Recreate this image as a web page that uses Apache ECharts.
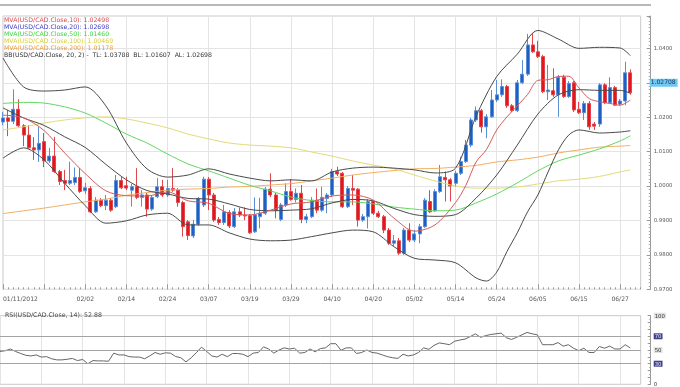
<!DOCTYPE html>
<html><head><meta charset="utf-8">
<script src="https://cdn.jsdelivr.net/npm/echarts@6/dist/echarts.min.js"></script>
<style>html,body{margin:0;padding:0;background:#fff}#c{width:680px;height:387px}</style>
</head><body><div id="c"></div>
<script>
// ---- categories: weekday dates from 01/11/2012 to 06/29/2012, plus 2 empty slots at the right
const categories = (function () {
  const out = [];
  const d = new Date(Date.UTC(2012, 0, 11));
  while (out.length < 123) {
    const wd = d.getUTCDay();
    if (wd > 0 && wd < 6) {
      const mm = String(d.getUTCMonth() + 1).padStart(2, '0');
      const dd = String(d.getUTCDate()).padStart(2, '0');
      out.push(out.length === 0 ? mm + '/' + dd + '/2012' : mm + '/' + dd);
    }
    d.setUTCDate(d.getUTCDate() + 1);
  }
  out.push('', '');
  return out;
})();

// ---- OHLC
const opens = [
1.0186,1.0198,1.0188,1.0223,1.0175,1.0148,1.0111,1.0105,1.0129,1.0073,
1.0087,1.0042,1.0016,1.0008,1.0010,1.0025,0.9986,0.9993,0.9925,0.9959,
0.9943,0.9959,0.9940,1.0016,1.0001,0.9988,0.9998,0.9967,0.9974,0.9933,
0.9969,0.9998,0.9974,0.9993,0.9988,0.9952,0.9896,0.9855,0.9889,0.9945,
1.0020,0.9974,0.9903,0.9894,0.9923,0.9882,0.9925,0.9915,0.9914,0.9867,
0.9911,0.9921,0.9991,0.9974,0.9903,0.9945,0.9984,0.9961,0.9979,0.9903,
0.9911,0.9959,0.9930,0.9964,0.9974,1.0042,1.0037,0.9940,0.9993,0.9991,
0.9901,0.9911,0.9955,0.9921,0.9911,0.9872,0.9834,0.9841,0.9805,0.9872,
0.9843,0.9861,0.9882,0.9955,0.9928,0.9984,1.0025,1.0018,1.0008,1.0037,
1.0071,1.0119,1.0192,1.0219,1.0172,1.0201,1.0250,1.0265,1.0289,1.0233,
1.0219,1.0300,1.0325,1.0410,1.0390,1.0376,1.0274,1.0277,1.0265,1.0316,
1.0260,1.0300,1.0223,1.0213,1.0240,1.0180,1.0180,1.0294,1.0242,1.0286,
1.0238,1.0247,1.0329];
const closes = [
1.0198,1.0188,1.0223,1.0175,1.0148,1.0111,1.0105,1.0124,1.0073,1.0087,
1.0042,1.0013,1.0008,1.0016,1.0025,0.9984,0.9995,0.9925,0.9959,0.9943,
0.9959,0.9930,1.0016,0.9995,0.9994,0.9998,0.9967,0.9974,0.9933,0.9967,
0.9998,0.9974,0.9993,0.9988,0.9952,0.9882,0.9856,0.9889,0.9964,1.0020,
0.9974,0.9901,0.9894,0.9925,0.9884,0.9925,0.9916,0.9913,0.9864,0.9916,
0.9921,0.9991,0.9974,0.9930,0.9945,0.9984,0.9961,0.9979,0.9903,0.9911,
0.9959,0.9930,0.9967,0.9974,1.0042,1.0035,0.9940,0.9993,0.9988,0.9901,
0.9911,0.9955,0.9921,0.9911,0.9872,0.9834,0.9841,0.9805,0.9872,0.9843,
0.9861,0.9882,0.9959,0.9925,0.9984,1.0027,1.0018,1.0000,1.0037,1.0071,
1.0119,1.0192,1.0219,1.0172,1.0201,1.0250,1.0265,1.0289,1.0233,1.0219,
1.0300,1.0325,1.0410,1.0390,1.0376,1.0274,1.0279,1.0265,1.0316,1.0260,
1.0298,1.0221,1.0213,1.0240,1.0172,1.0174,1.0294,1.0242,1.0286,1.0235,
1.0247,1.0329,1.02708];
const lows = [
1.0177,1.0145,1.0180,1.0172,1.0116,1.0108,1.0076,1.0070,1.0055,1.0067,
1.0038,1.0003,0.9988,1.0003,1.0003,0.9980,0.9977,0.9922,0.9922,0.9939,
0.9930,0.9925,0.9936,0.9991,0.9988,0.9940,0.9962,0.9940,0.9911,0.9928,
0.9965,0.9968,0.9968,0.9983,0.9940,0.9853,0.9843,0.9849,0.9884,0.9939,
0.9930,0.9896,0.9887,0.9887,0.9878,0.9878,0.9910,0.9901,0.9861,0.9864,
0.9877,0.9916,0.9968,0.9906,0.9898,0.9939,0.9957,0.9952,0.9892,0.9892,
0.9907,0.9921,0.9925,0.9921,0.9968,1.0029,0.9936,0.9936,0.9945,0.9882,
0.9896,0.9877,0.9916,0.9907,0.9863,0.9829,0.9826,0.9800,0.9800,0.9837,
0.9837,0.9834,0.9878,0.9922,0.9925,0.9980,0.9955,0.9955,0.9998,1.0032,
1.0067,1.0113,1.0186,1.0155,1.0139,1.0198,1.0244,1.0259,1.0227,1.0215,
1.0215,1.0296,1.0320,1.0387,1.0372,1.0270,1.0250,1.0259,1.0201,1.0256,
1.0256,1.0215,1.0209,1.0192,1.0163,1.0163,1.0172,1.0238,1.0238,1.0233,
1.0233,1.0235,1.0265];
const highs = [
1.0215,1.0221,1.0281,1.0252,1.0180,1.0177,1.0142,1.0172,1.0154,1.0111,
1.0143,1.0047,1.0047,1.0071,1.0054,1.0052,1.0009,1.0000,0.9968,0.9965,
0.9974,0.9965,1.0032,1.0027,1.0027,1.0006,1.0052,0.9988,0.9980,0.9974,
1.0023,1.0018,1.0018,1.0052,0.9994,0.9957,0.9901,0.9901,0.9968,1.0027,
1.0026,0.9980,0.9910,0.9945,0.9930,0.9936,0.9938,0.9938,0.9919,0.9967,
0.9966,0.9997,1.0037,0.9980,0.9951,1.0008,1.0020,0.9993,1.0003,0.9919,
0.9968,0.9993,0.9998,0.9980,1.0050,1.0056,1.0041,1.0000,1.0032,0.9994,
0.9919,0.9962,0.9959,0.9928,0.9916,0.9878,0.9858,0.9849,0.9878,0.9892,
0.9872,0.9890,0.9965,0.9988,0.9991,1.0061,1.0042,1.0023,1.0044,1.0085,
1.0134,1.0198,1.0231,1.0224,1.0209,1.0279,1.0308,1.0310,1.0294,1.0238,
1.0308,1.0366,1.0442,1.0444,1.0422,1.0381,1.0352,1.0342,1.0323,1.0323,
1.0305,1.0305,1.0245,1.0247,1.0247,1.0186,1.0299,1.0299,1.0316,1.0291,
1.0253,1.0361,1.0339];

// ---- indicator lines (read at sample bars)
const lineIdx = [0,4,8,12,16,20,24,28,32,36,40,44,48,52,56,60,64,68,72,76,80,84,88,92,96,100,104,108,112,116,120,122];
const bbUpper = [1.0372,1.0288,1.0276,1.0279,1.0288,1.0233,1.0125,1.0050,1.0026,1.0032,1.0050,1.0035,1.0023,1.0015,1.0018,1.0015,1.0041,1.0052,1.0055,1.0052,1.0047,1.0038,1.0052,1.0203,1.0318,1.0383,1.0452,1.0427,1.0400,1.0403,1.0401,1.03788];
const bbMid = [1.0227,1.0198,1.0176,1.0143,1.0112,1.0063,1.0018,0.9987,0.9977,0.9964,0.9962,0.9948,0.9932,0.9928,0.9930,0.9934,0.9951,0.9961,0.9957,0.9935,0.9917,0.9912,0.9917,0.9965,1.0032,1.0119,1.0209,1.0265,1.0280,1.0278,1.0278,1.02698];
const bbLowerIdx = [0,4,8,12,16,20,24,28,32,36,40,44,48,52,56,60,64,68,72,76,80,84,88,92,94,96,98,100,102,104,106,108,110,112,116,120,122];
const bbLower = [1.0081,1.0111,1.0076,1.0008,0.9943,0.9892,0.9899,0.9916,0.9921,0.9887,0.9887,0.9864,0.9846,0.9841,0.9843,0.9853,0.9864,0.9872,0.9867,0.9824,0.9790,0.9785,0.9777,0.9733,0.9724,0.9750,0.9810,0.9864,0.9925,0.9974,1.0041,1.0105,1.0148,1.0163,1.0154,1.0157,1.01607];
const ma10Idx = [0,4,8,12,16,20,24,28,32,36,40,44,48,52,56,60,64,68,72,76,80,84,88,90,92,94,96,98,100,102,104,106,108,110,112,114,116,118,120,122];
const ma10 = [1.0206,1.0198,1.0161,1.0096,1.0036,0.9986,0.9972,0.9971,0.9983,0.9957,0.9950,0.9920,0.9916,0.9930,0.9948,0.9954,0.9971,0.9974,0.9959,0.9907,0.9869,0.9887,0.9952,1.0002,1.0070,1.0106,1.0163,1.0201,1.0233,1.0266,1.0307,1.0309,1.0318,1.0319,1.0285,1.0254,1.0245,1.0240,1.0235,1.02498];
const ma50 = [1.0240,1.0243,1.0241,1.0230,1.0212,1.0183,1.0151,1.0125,1.0093,1.0064,1.0044,1.0023,1.0002,0.9986,0.9968,0.9958,0.9954,0.9954,0.9948,0.9939,0.9933,0.9928,0.9930,0.9951,0.9977,1.0009,1.0044,1.0073,1.0090,1.0108,1.0131,1.0146];
const ma100 = [1.0163,1.0172,1.0183,1.0192,1.0198,1.0201,1.0195,1.0183,1.0169,1.0151,1.0137,1.0125,1.0119,1.0116,1.0111,1.0099,1.0087,1.0073,1.0061,1.0050,1.0032,1.0015,1.0000,0.9994,0.9994,0.9997,1.0006,1.0015,1.0020,1.0028,1.0041,1.00469];
const ma200 = [0.9920,0.9928,0.9936,0.9945,0.9954,0.9962,0.9973,0.9981,0.9988,0.9991,0.9993,0.9997,0.9999,1.0003,1.0007,1.0015,1.0023,1.0032,1.0039,1.0045,1.0050,1.0051,1.0055,1.0060,1.0070,1.0076,1.0084,1.0096,1.0105,1.0113,1.0116,1.01178];

// ---- RSI(14)
const rsi = [
47.9,48.9,51.5,47.9,44.9,42.3,41.3,42.8,39.7,40.3,
37.2,35.6,35.6,36.5,37.7,34.6,36.2,30.0,34.6,34.1,
34.1,33.6,45.4,42.8,42.8,40.3,39.7,39.7,37.2,41.5,
46.4,43.8,45.9,45.4,40.5,38.7,32.6,38.7,46.0,54.1,
47.9,41.3,39.7,43.8,40.3,44.9,44.9,43.8,40.3,45.4,
46.4,54.6,51.5,45.4,50.0,53.1,51.5,52.6,45.4,46.4,
51.5,47.4,52.1,53.1,59.2,59.2,49.5,53.1,53.1,44.9,
46.4,50.0,46.4,45.4,42.8,40.3,38.7,37.7,43.8,41.3,
42.8,46.4,53.1,51.0,56.7,60.3,59.2,57.7,62.8,64.5,
65.9,69.5,73.6,68.5,71.0,72.6,73.6,74.6,67.9,65.4,
68.5,72.1,75.6,73.6,72.1,57.7,57.7,57.7,60.8,55.6,
57.7,52.6,49.0,52.6,46.4,46.4,55.1,52.6,55.6,51.5,
51.5,57.7,52.88];

// ---- legend texts
const legendLines = [
  ['MVA(USD/CAD.Close,10): 1.02498', '#e0474c'],
  ['MVA(USD/CAD.Close,20): 1.02698', '#3a3ac4'],
  ['MVA(USD/CAD.Close,50): 1.01460', '#3fd43f'],
  ['MVA(USD/CAD.Close,100): 1.00469', '#d9cf3a'],
  ['MVA(USD/CAD.Close,200): 1.01178', '#eb9a3c'],
  ['BB(USD/CAD.Close, 20, 2) -  TL: 1.03788  BL: 1.01607  AL: 1.02698', '#333333']
];
const rsiTitle = 'RSI(USD/CAD.Close, 14): 52.88';

const FONT = 'DejaVu Sans';
// size a font so that a sample string takes the width seen in the reference
const measureCtx = document.createElement('canvas').getContext('2d');
function fitSize(text, targetWidth) {
  measureCtx.font = '20px "DejaVu Sans"';
  const w = measureCtx.measureText(text).width;
  return w > 0 ? 20 * targetWidth / w : 6.5;
}
const legendSize = fitSize(legendLines[5][0], 208.5);
const rsiTitleSize = fitSize(rsiTitle, 97);
const xLabelSize = fitSize('01/11/2012', 35);
const yLabelSize = fitSize('1.0400', 18.8);
const priceLabelSize = fitSize('1.02708', 25);

const pair = (idx, vals) => idx.map((k, j) => [k, vals[j]]);
const candleData = opens.map((o, i) => [o, closes[i], lows[i], highs[i]]);
const showLabel = i => i === 0 || (i >= 16 && i % 8 === 0 && i <= 120);
const gridLine = i => i % 8 === 0 && i <= 120;

function lineSeries(name, data, color, z) {
  return { name, type: 'line', xAxisIndex: 0, yAxisIndex: 0, data, symbol: 'none', smooth: 0.3,
    lineStyle: { width: 1, color }, z: z || 3, silent: true };
}

const chart = echarts.init(document.getElementById('c'), null, { renderer: 'canvas' });
const graphics = [
  { type: 'rect', shape: { x: 0, y: 4, width: 651, height: 2 }, style: { fill: '#b8b8b8' } }
];
legendLines.forEach((l, k) => {
  graphics.push({ type: 'text', x: 4, y: 20.7 + k * 6.85, z: 10,
    style: { text: l[0], fill: l[1], fontSize: legendSize, fontFamily: FONT, verticalAlign: 'middle' } });
});
graphics.push({ type: 'text', x: 5, y: 315.5, z: 10,
  style: { text: rsiTitle, fill: '#444', fontSize: rsiTitleSize, fontFamily: FONT, verticalAlign: 'middle' } });

const option = {
  animation: false,
  backgroundColor: '#ffffff',
  graphic: graphics,
  grid: [
    { left: -1.1, right: 39.3, top: 16, bottom: 97.7, show: true, borderColor: '#c8c8c8', borderWidth: 1, backgroundColor: '#fff' },
    { left: -1.1, right: 39.3, top: 315.7, bottom: 2.7, show: true, borderColor: '#c8c8c8', borderWidth: 1, backgroundColor: '#fff' }
  ],
  xAxis: [
    { type: 'category', gridIndex: 0, position: 'bottom', data: categories, boundaryGap: false,
      axisLine: { show: false },
      axisTick: { show: true, interval: 0, inside: true, length: 2, lineStyle: { color: '#999' } },
      axisLabel: { interval: (i) => showLabel(i), fontSize: xLabelSize, fontFamily: FONT, color: '#555', margin: 7, alignMinLabel: 'left', hideOverlap: false },
      splitLine: { show: true, interval: (i) => gridLine(i), lineStyle: { color: '#e4e4e4' } } },
    { type: 'category', gridIndex: 0, position: 'bottom', data: categories, boundaryGap: false,
      axisLine: { show: false }, axisLabel: { show: false }, splitLine: { show: false },
      axisTick: { show: true, interval: (i) => gridLine(i), inside: true, length: 5, lineStyle: { color: '#999' } } },
    { type: 'category', gridIndex: 1, position: 'bottom', data: categories, boundaryGap: false,
      axisLine: { show: false }, axisLabel: { show: false }, axisTick: { show: false },
      splitLine: { show: true, interval: (i) => gridLine(i), lineStyle: { color: '#e4e4e4' } } }
  ],
  yAxis: [
    { type: 'value', gridIndex: 0, position: 'right', offset: 10, min: 0.97, max: 1.0494, interval: 0.01,
      axisLine: { show: true, lineStyle: { color: '#999' } },
      axisTick: { show: true, inside: true, length: 4, lineStyle: { color: '#999' } },
      minorTick: { show: true, splitNumber: 10, length: 2, lineStyle: { color: '#aaa' } },
      axisLabel: { fontSize: yLabelSize, fontFamily: FONT, color: '#555', margin: 3, showMaxLabel: false,
        formatter: v => (Math.abs(v - 1.0494) < 1e-6 ? '' : v.toFixed(4)) },
      splitLine: { show: true, lineStyle: { color: '#e4e4e4' } } },
    { type: 'value', gridIndex: 1, position: 'right', offset: 10, min: 0, max: 100, interval: 10,
      axisLine: { show: true, lineStyle: { color: '#999' } },
      axisTick: { show: true, inside: true, length: 3, lineStyle: { color: '#999' } },
      minorTick: { show: true, splitNumber: 2, length: 1.5, lineStyle: { color: '#aaa' } },
      splitLine: { show: false },
      axisLabel: { margin: 3, fontSize: yLabelSize, fontFamily: FONT, color: '#444',
        formatter: v => {
          if (v === 70 || v === 30) return '{d|' + v + '}';
          if (v === 100 || v === 50) return '{l|' + v + '}';
          if (v === 0) return '{p|0}';
          return '';
        },
        rich: {
          d: { backgroundColor: '#3f4388', color: '#e2e2ff', fontSize: yLabelSize, fontFamily: FONT, padding: [1, 1, 0, 1] },
          l: { backgroundColor: '#e2e2e2', color: '#333', fontSize: yLabelSize, fontFamily: FONT, padding: [1, 1, 0, 1] },
          p: { color: '#333', fontSize: yLabelSize, fontFamily: FONT }
        } } }
  ],
  series: [
    { name: 'USD/CAD', type: 'candlestick', xAxisIndex: 0, yAxisIndex: 0, data: candleData, barWidth: 3.4, z: 2,
      itemStyle: { color: '#1d5fc4', color0: '#e3161c', borderColor: '#5a8fd6', borderColor0: '#e0474c', borderWidth: 1 },
      markLine: { silent: true, symbol: 'none', animation: false,
        lineStyle: { color: 'rgba(0,0,0,0)', width: 0 },
        label: { show: true, position: 'end', distance: 9, formatter: closes[closes.length - 1].toFixed(5),
          backgroundColor: '#6fc8f2', color: '#143a66', fontSize: priceLabelSize, fontFamily: FONT, padding: [1, 2, 1, 1] },
        data: [{ yAxis: closes[closes.length - 1] }] } },
    lineSeries('MVA200', pair(lineIdx, ma200), '#f1b062'),
    lineSeries('MVA100', pair(lineIdx, ma100), '#e3da7a'),
    lineSeries('MVA50', pair(lineIdx, ma50), '#62d862'),
    lineSeries('BB upper', pair(lineIdx, bbUpper), '#4a4a4a', 4),
    lineSeries('BB lower', pair(bbLowerIdx, bbLower), '#4a4a4a', 4),
    lineSeries('BB mid', pair(lineIdx, bbMid), '#4a4a4a', 4),
    lineSeries('MVA10', pair(ma10Idx, ma10), '#d65a5a', 5),
    { name: 'RSI', type: 'line', xAxisIndex: 2, yAxisIndex: 1, data: rsi, symbol: 'none',
      lineStyle: { width: 1, color: '#666' }, z: 3,
      markLine: { silent: true, symbol: 'none', animation: false, label: { show: false },
        lineStyle: { color: '#a4a4a4', type: 'solid', width: 1 },
        data: [{ yAxis: 30 }, { yAxis: 50 }, { yAxis: 70 }] } }
  ]
};
chart.setOption(option);
</script></body></html>
